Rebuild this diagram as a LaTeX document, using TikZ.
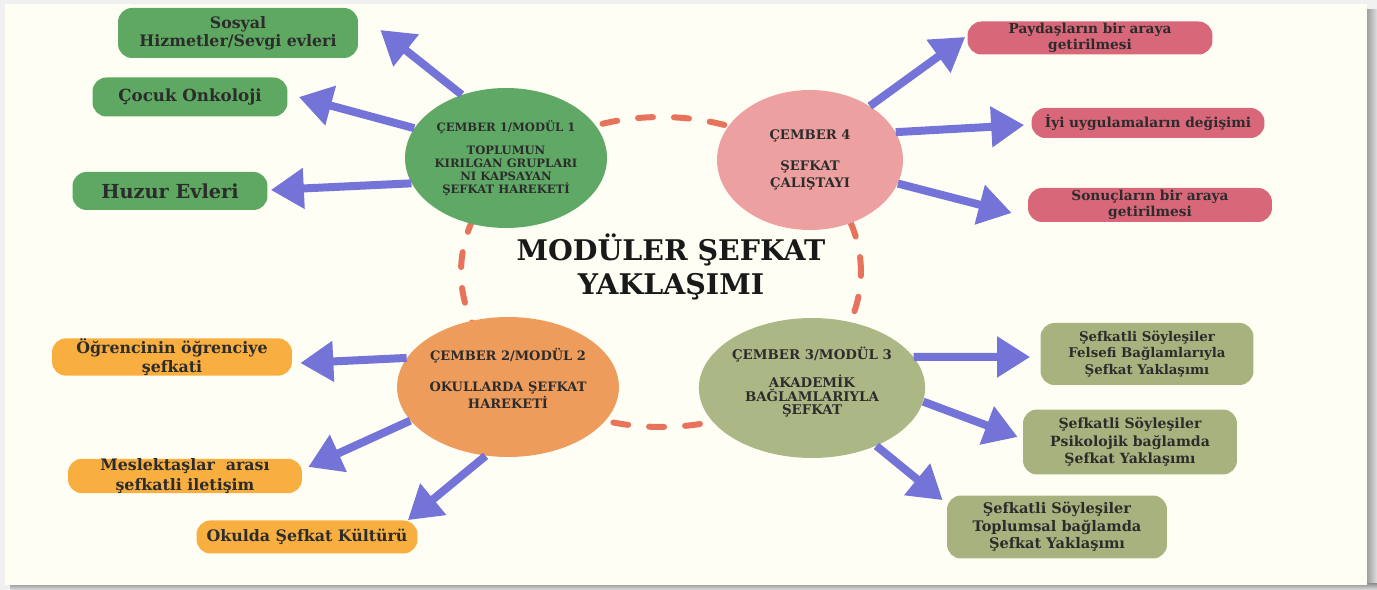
\documentclass[tikz,border=0pt]{standalone}
\usepackage{fontspec}
\setmainfont{DejaVu Serif}
\usetikzlibrary{arrows.meta,shapes.geometric,calc}

\definecolor{panelcol}{HTML}{FEFEF4}
\definecolor{ringcol}{HTML}{E8735C}
\definecolor{spokecol}{HTML}{7474D8}
\definecolor{greencirc}{HTML}{5FA865}
\definecolor{pinkcirc}{HTML}{EDA0A0}
\definecolor{orangecirc}{HTML}{EE9C5C}
\definecolor{olivecirc}{HTML}{ABB886}
\definecolor{greenbox}{HTML}{5EA862}
\definecolor{pinkbox}{HTML}{D8677A}
\definecolor{orangebox}{HTML}{F8AF3F}
\definecolor{olivebox}{HTML}{A8B27E}
\definecolor{inktext}{HTML}{2C2C2C}

\begin{document}
\begin{tikzpicture}[x=0.02cm,y=-0.02cm,
    module/.style={ellipse,minimum width=3.72cm,minimum height=2.8cm,inner sep=0pt,
        align=center,text=inktext},
    leaf/.style={rounded corners=0.28cm,inner sep=0pt,align=center,text=inktext},
    spoke/.style={-{Triangle[length=0.66cm,width=0.78cm]},line width=0.16cm,color=spokecol},
    ring/.style={draw=ringcol,line width=0.12cm,line cap=round,dash pattern=on 0.3cm off 0.42cm}]

% frame and shadow
\useasboundingbox (0,0) rectangle (1377,590);
\fill[gray!12] (0,0) rectangle (1377,590);
\fill[left color=gray!80,right color=gray!25] (1366,10) rectangle (1377,590);
\fill[top color=gray!80,bottom color=gray!25] (10,584) rectangle (1377,590);
\fill[panelcol] (5,4) rectangle (1367,585);

\draw[ring] (661,272) ellipse [x radius=4cm,y radius=3.1cm];

\node[font=\bfseries\fontsize{16.2}{19.5}\selectfont,align=center,text=black!90] (title) at (671,267)
    {MODÜLER ŞEFKAT\\YAKLAŞIMI};

% modules
\node[module,fill=greencirc,font=\bfseries\fontsize{6.6}{7.3}\selectfont] (m1) at (506,158)
    {ÇEMBER 1/MODÜL 1\\[6pt]TOPLUMUN\\KIRILGAN GRUPLARI\\NI KAPSAYAN\\ŞEFKAT HAREKETİ};
\node[module,fill=pinkcirc,font=\bfseries\fontsize{7.5}{9.6}\selectfont] (m4) at (810,160)
    {ÇEMBER 4\\[8pt]ŞEFKAT\\ÇALIŞTAYI};
\node[module,fill=orangecirc,font=\bfseries\fontsize{7.4}{7.8}\selectfont] (m2) at (508,387)
    {ÇEMBER 2/MODÜL 2\\[10pt]OKULLARDA ŞEFKAT\\HAREKETİ\\[2pt]~};
\node[module,fill=olivecirc,font=\bfseries\fontsize{7.6}{7.7}\selectfont] (m3) at (812,388)
    {ÇEMBER 3/MODÜL 3\\[6.5pt]AKADEMİK\\BAĞLAMLARIYLA\\ŞEFKAT\\[0.3pt]~};

% leaves of module 1
\node[leaf,fill=greenbox,minimum width=4.8cm,minimum height=1cm,font=\bfseries\fontsize{9}{10.5}\selectfont]
    (g1) at (238,33) {Sosyal\\Hizmetler/Sevgi evleri};
\node[leaf,fill=greenbox,minimum width=3.9cm,minimum height=0.78cm,font=\bfseries\fontsize{9.5}{11}\selectfont]
    (g2) at (190,97) {Çocuk Onkoloji};
\node[leaf,fill=greenbox,minimum width=3.9cm,minimum height=0.76cm,font=\bfseries\fontsize{11}{13}\selectfont]
    (g3) at (170,191) {Huzur Evleri};

% leaves of module 4
\node[leaf,fill=pinkbox,minimum width=4.9cm,minimum height=0.66cm,font=\bfseries\fontsize{7.8}{9.4}\selectfont]
    (p1) at (1090,38) {Paydaşların bir araya\\getirilmesi};
\node[leaf,fill=pinkbox,minimum width=4.66cm,minimum height=0.6cm,font=\bfseries\fontsize{7.8}{9.4}\selectfont]
    (p2) at (1148,123) {İyi uygulamaların değişimi};
\node[leaf,fill=pinkbox,minimum width=4.88cm,minimum height=0.68cm,font=\bfseries\fontsize{7.8}{9.4}\selectfont]
    (p3) at (1150,205) {Sonuçların bir araya\\getirilmesi};

% leaves of module 2
\node[leaf,fill=orangebox,minimum width=4.8cm,minimum height=0.7cm,font=\bfseries\fontsize{9}{11}\selectfont]
    (o1) at (172,357) {Öğrencinin öğrenciye\\şefkati};
\node[leaf,fill=orangebox,minimum width=4.68cm,minimum height=0.66cm,font=\bfseries\fontsize{9}{11}\selectfont]
    (o2) at (185,476) {Meslektaşlar~~arası\\şefkatli iletişim};
\node[leaf,fill=orangebox,minimum width=4.42cm,minimum height=0.66cm,font=\bfseries\fontsize{9}{11}\selectfont]
    (o3) at (307,537) {Okulda Şefkat Kültürü};

% leaves of module 3
\node[leaf,fill=olivebox,minimum width=4.26cm,minimum height=1.24cm,font=\bfseries\fontsize{7.6}{9.6}\selectfont]
    (k1) at (1147,354) {Şefkatli Söyleşiler\\Felsefi Bağlamlarıyla\\Şefkat Yaklaşımı};
\node[leaf,fill=olivebox,minimum width=4.28cm,minimum height=1.3cm,font=\bfseries\fontsize{8}{9.9}\selectfont]
    (k2) at (1130,442) {Şefkatli Söyleşiler\\Psikolojik bağlamda\\Şefkat Yaklaşımı};
\node[leaf,fill=olivebox,minimum width=4.4cm,minimum height=1.26cm,font=\bfseries\fontsize{8.3}{9.9}\selectfont]
    (k3) at (1057,527) {Şefkatli Söyleşiler\\Toplumsal bağlamda\\Şefkat Yaklaşımı};

\path[spoke]
(m1.125) edge ($(g1.east)+(22,-3)$)
(m1.162) edge ($(g2.east)+(11,0)$)
(m1.195) edge ($(g3.east)+(3,-1)$)
(m4.42) edge ($(p1.west)+(-2,-1)$)
(m4.18) edge ($(p2.west)+(-7,2)$)
(m4.345) edge ($(p3.west)+(-16,8)$)
(m2.164) edge ($(o1.east)+(8,6)$)
(m2.199) edge ($(o2.east)+(6,-9)$)
(m2.252) edge ($(o3.north east)+(-10,0)$)
(m3.17) edge ($(k1.west)+(-10,3)$)
(m3.353) edge ($(k2.west)+(-5,-5)$)
(m3.318) edge ($(k3.north west)+(-4,5)$)
;

\end{tikzpicture}
\end{document}
